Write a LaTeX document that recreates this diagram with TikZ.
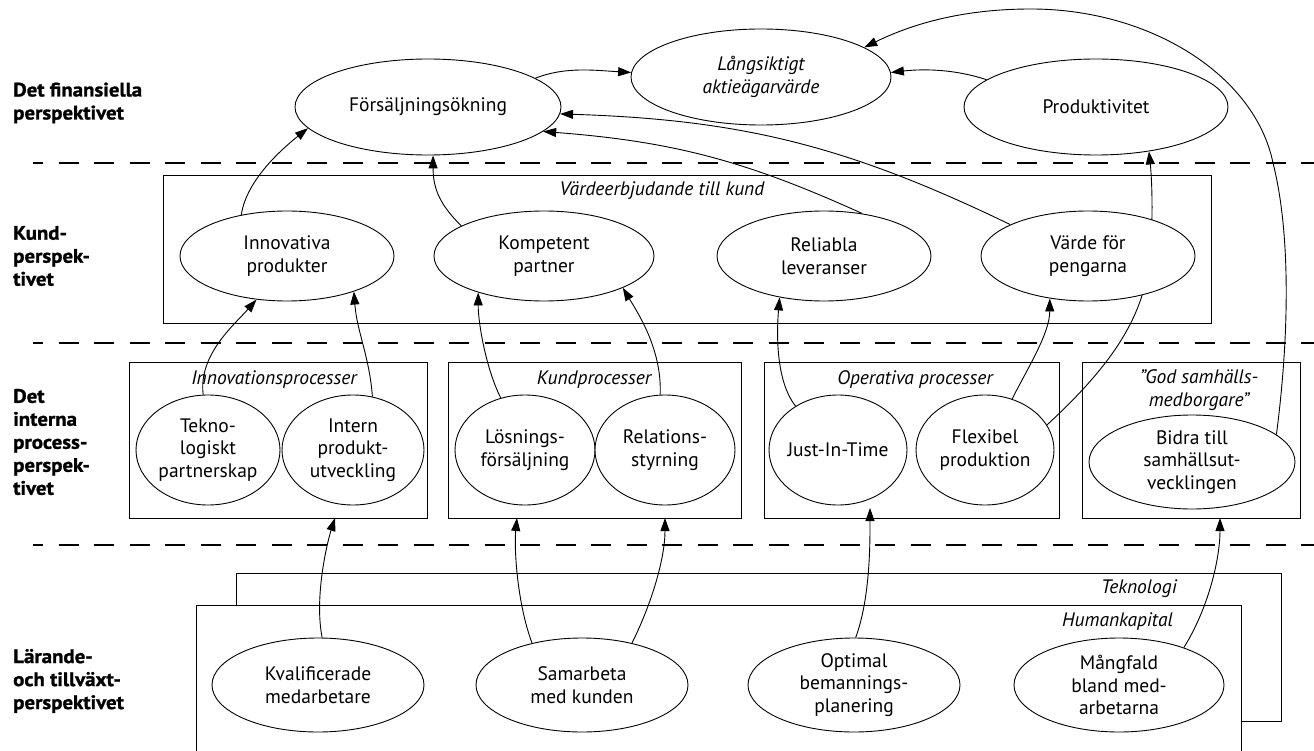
\documentclass[tikz,border=0pt]{standalone}
\usepackage{fontspec}
\setmainfont{PT Sans}
\newfontfamily\labfont{PT Sans Bold}[FakeStretch=1.07,FakeBold=1.2]
\usetikzlibrary{arrows.meta,shapes.geometric}
\pgfdeclarelayer{bg}
\pgfdeclarelayer{lines}
\pgfsetlayers{bg,lines,main}
\tikzset{
  el/.style={draw,ellipse,fill=white,inner sep=0pt,line width=0.9pt},
  txt/.style={align=center,font=\fontsize{19.5}{22.5}\selectfont,inner sep=0pt},
  ttl/.style={align=center,font=\fontsize{19.5}{22.5}\selectfont\itshape,inner sep=0pt},
  lab/.style={align=left,anchor=west,font=\fontsize{19.5}{23}\labfont,inner sep=0pt},
  boxn/.style={draw,rectangle,line width=1.2pt,inner sep=0pt,anchor=north west},
  conn/.style={line width=0.9pt},
  arr/.style={conn,-{Triangle[length=13pt,width=9pt]}},
  dsh/.style={line width=1.2pt,dash pattern=on 20pt off 15.5pt,dash phase=10pt}
}
\begin{document}
\begin{tikzpicture}[x=1pt,y=-1pt]
\useasboundingbox (0,0) rectangle (1314,751);

\begin{pgfonlayer}{bg}
\coordinate (d1a) at (33,163); \coordinate (d1b) at (1314,163);
\coordinate (d2a) at (33,343); \coordinate (d2b) at (1314,343);
\coordinate (d3a) at (33,545); \coordinate (d3b) at (1314,545);
\draw[dsh] (d1a) -- (d1b);
\draw[dsh] (d2a) -- (d2b);
\draw[dsh] (d3a) -- (d3b);
\node[boxn,minimum width=1048pt,minimum height=148pt] (kbox) at (163,175) {};
\node[boxn,minimum width=298pt,minimum height=156pt] (ibox) at (129,362) {};
\node[boxn,minimum width=293pt,minimum height=156pt] (cbox) at (448,362) {};
\node[boxn,minimum width=295pt,minimum height=156pt] (obox) at (764,362) {};
\node[boxn,minimum width=218pt,minimum height=156pt] (gbox) at (1082,362) {};
\node[boxn,minimum width=1045pt,minimum height=148pt] (tbox) at (236,573) {};
\node[boxn,fill=white,minimum width=1045pt,minimum height=175pt] (hbox) at (196,605) {};
\end{pgfonlayer}

% row labels
\node[lab] (l1) at (13,103) {Det finansiella\\perspektivet};
\node[lab] (l2) at (13,256) {Kund-\\perspek-\\tivet};
\node[lab] (l3) at (13,442) {Det\\interna\\process-\\perspek-\\tivet};
\node[lab] (l4) at (13,681) {Lärande-\\och tillväxt-\\perspektivet};

% box titles
\node[ttl] (t1) at (662,191) {Värdeerbjudande till kund};
\node[ttl] (t2) at (274,380) {Innovationsprocesser};
\node[ttl] (t3) at (594,380) {Kundprocesser};
\node[ttl] (t4) at (915,380) {Operativa processer};
\node[ttl] (t5) at (1199,390) {”God samhälls-\\medborgare”};
\node[ttl,anchor=east] (t6) at (1177,589) {Teknologi};
\node[ttl,anchor=east] (t7) at (1173,622) {Humankapital};

% financial
\node[el,minimum width=266pt,minimum height=96pt] (fs) at (428,107) {};
\node[txt] (fs-t) at (fs) {Försäljningsökning};
\node[el,minimum width=260pt,minimum height=96pt] (la) at (761,77) {};
\node[ttl] (la-t) at (la) {Långsiktigt\\aktieägarvärde};
\node[el,minimum width=264pt,minimum height=96pt] (pr) at (1096,107) {};
\node[txt] (pr-t) at (pr) {Produktivitet};

% customer
\node[el,minimum width=214pt,minimum height=90pt] (ip) at (287,256) {};
\node[txt] (ip-t) at (ip) {Innovativa\\produkter};
\node[el,minimum width=220pt,minimum height=90pt] (kp) at (544,256) {};
\node[txt] (kp-t) at (kp) {Kompetent\\partner};
\node[el,minimum width=214pt,minimum height=90pt] (rl) at (824,256) {};
\node[txt] (rl-t) at (rl) {Reliabla\\leveranser};
\node[el,minimum width=214pt,minimum height=90pt] (vp) at (1088,256) {};
\node[txt] (vp-t) at (vp) {Värde för\\pengarna};

% internal
\node[el,minimum width=144pt,minimum height=110pt] (tk) at (208,450) {};
\node[txt] (tk-t) at (tk) {Tekno-\\logiskt\\partnerskap};
\node[el,minimum width=142pt,minimum height=110pt] (ipu) at (353,450) {};
\node[txt] (ipu-t) at (ipu) {Intern\\produkt-\\utveckling};
\node[el,minimum width=140pt,minimum height=110pt] (ls) at (525,450) {};
\node[txt] (ls-t) at (ls) {Lösnings-\\försäljning};
\node[el,minimum width=140pt,minimum height=110pt] (rs) at (665,450) {};
\node[txt] (rs-t) at (rs) {Relations-\\styrning};
\node[el,minimum width=138pt,minimum height=110pt] (jt) at (838,450) {};
\node[txt] (jt-t) at (jt) {Just-In-Time};
\node[el,minimum width=138pt,minimum height=110pt] (fx) at (985,450) {};
\node[txt] (fx-t) at (fx) {Flexibel\\produktion};
\node[el,minimum width=206pt,minimum height=94pt] (bd) at (1192,462) {};
\node[txt] (bd-t) at (bd) {Bidra till\\samhällsut-\\vecklingen};

% learning
\node[el,minimum width=212pt,minimum height=94pt] (kv) at (318,685) {};
\node[txt] (kv-t) at (kv) {Kvalificerade\\medarbetare};
\node[el,minimum width=212pt,minimum height=94pt] (sa) at (582,685) {};
\node[txt] (sa-t) at (sa) {Samarbeta\\med kunden};
\node[el,minimum width=212pt,minimum height=94pt] (op) at (854,685) {};
\node[txt] (op-t) at (op) {Optimal\\bemannings-\\planering};
\node[el,minimum width=210pt,minimum height=94pt] (mf) at (1119,685) {};
\node[txt] (mf-t) at (mf) {Mångfald\\bland med-\\arbetarna};

% arrow end points on process boxes
\coordinate (e1) at (335,518);
\coordinate (e2) at (517,518);
\coordinate (e3) at (665,518);
\coordinate (e4) at (870,508);
\coordinate (e5) at (1220,518);

\begin{pgfonlayer}{lines}
% financial
\draw[arr] (fs.15) .. controls +(30,-12) and +(-35,-2) .. (la.178);
\draw[arr] (pr.166) .. controls +(-30,-10) and +(35,-4) .. (la.2);
\draw[arr] (bd.18) .. controls (1290,330) and (1290,230) .. (1273,163)
  .. controls (1255,75) and (1150,9) .. (1031,9)
  .. controls (960,9) and (910,25) .. (la.16);
% customer -> financial
\draw[arr] (ip.138) .. controls +(5,-35) and +(-25,20) .. (fs.190);
\draw[arr] (kp.160) .. controls +(-20,-20) and +(0,35) .. (fs.-84);
\draw[arr] (rl.48) to[bend right=10] (fs.-12);
\draw[arr] (vp.158) to[bend right=12] (fs.-3);
\draw[arr] (fx.22) .. controls (1112,365) and (1140,320) .. (1148,270)
  .. controls (1154,230) and (1152,180) .. (pr.-40);
% internal -> customer
\draw[arr] (tk.95) .. controls +(-5,-40) and +(-22,25) .. (ip.-125);
\draw[arr] (ipu.70) .. controls +(-3,-40) and +(3,40) .. (ip.-28);
\draw[arr] (ls.115) .. controls +(-15,-30) and +(0,30) .. (kp.-151);
\draw[arr] (rs.95) .. controls +(2,-45) and +(15,25) .. (kp.-22);
\draw[arr] (jt.134) .. controls +(-20,-25) and +(-3,35) .. (rl.-137);
\draw[arr] (fx.62) .. controls +(15,-30) and +(0,35) .. (vp.-132);
% learning -> internal
\draw[arr] (kv.85) .. controls +(-8,-40) and +(-8,25) .. (e1);
\draw[arr] (sa.140) .. controls +(-15,-40) and +(-3,30) .. (e2);
\draw[arr] (sa.40) .. controls +(20,-40) and +(0,40) .. (e3);
\draw[arr] (op.88) .. controls +(15,-40) and +(0,30) .. (e4);
\draw[arr] (mf.30) .. controls +(25,-40) and +(0,40) .. (e5);
\end{pgfonlayer}
\end{tikzpicture}
\end{document}
